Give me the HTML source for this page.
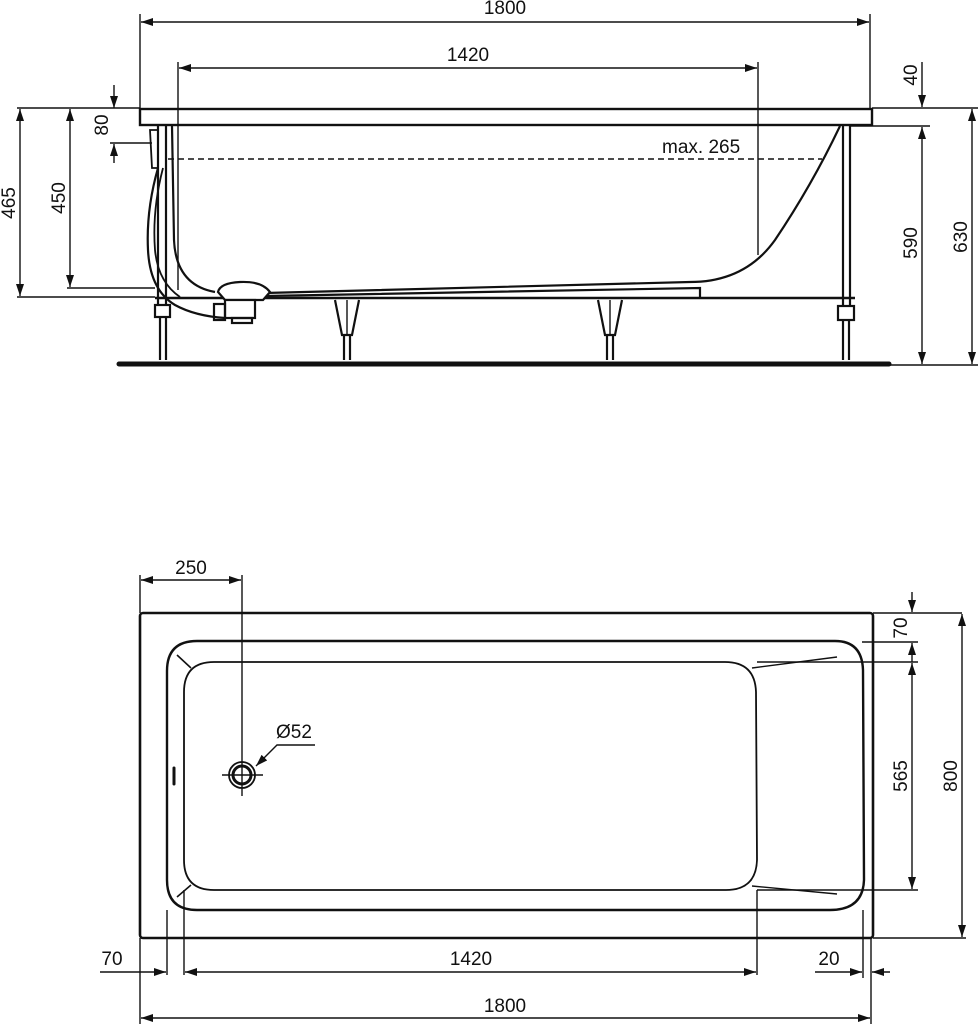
<!DOCTYPE html>
<html><head><meta charset="utf-8"><style>
html,body{margin:0;padding:0;background:#fff;}
svg{display:block}
text{font-family:"Liberation Sans",sans-serif;font-size:19px;fill:#111}
</style></head><body>
<svg width="978" height="1024" viewBox="0 0 978 1024" xmlns="http://www.w3.org/2000/svg">
<defs>
<marker id="a" viewBox="0 0 12 8" refX="12" refY="4" markerWidth="12" markerHeight="8" markerUnits="userSpaceOnUse" orient="auto-start-reverse">
<path d="M0,0 L12,4 L0,8 Z" fill="#111"/></marker>
</defs>
<g stroke="#111" fill="none" stroke-width="1.4">
<line x1="140" y1="14" x2="140" y2="108"/>
<line x1="870" y1="14" x2="870" y2="108"/>
<line x1="141" y1="22" x2="869" y2="22" marker-start="url(#a)" marker-end="url(#a)"/>
<line x1="178" y1="62" x2="178" y2="290"/>
<line x1="758" y1="62" x2="758" y2="255"/>
<line x1="179" y1="68" x2="757" y2="68" marker-start="url(#a)" marker-end="url(#a)"/>
<rect x="140" y="109" width="732" height="16" stroke-width="2.4"/>
<line x1="168" y1="159" x2="822" y2="159" stroke-dasharray="6,4"/>
<path d="M172,126 L174,240 Q176,285 215,292" stroke-width="2.2"/>
<path d="M265,293 L690,282 Q745,282 775,240 Q812,185 840,126" stroke-width="2.2"/>
<path d="M265,296 L700,288 L700,297" stroke-width="2.2"/>
<line x1="155" y1="298" x2="855" y2="298" stroke-width="2.6"/>
<line x1="158" y1="126" x2="158" y2="305" stroke-width="2.2"/>
<line x1="166" y1="126" x2="166" y2="305" stroke-width="2.2"/>
<path d="M150,130 L158,130 L158,168 L152,168 Z" stroke-width="1.8"/>
<rect x="155" y="305" width="15" height="12" stroke-width="2.2"/>
<line x1="160" y1="317" x2="160" y2="360" stroke-width="2.2"/>
<line x1="166" y1="317" x2="166" y2="360" stroke-width="2.2"/>
<path d="M158,168 Q146,210 148,250 Q150,290 175,305 Q195,316 225,318" stroke-width="2.2"/>
<path d="M163,168 Q152,210 155,250 Q158,282 180,297" stroke-width="1.8"/>
<path d="M218,292 Q220,283 240,282 Q262,281 270,292 L263,300 L225,300 Z" stroke-width="2.2" fill="#fff"/>
<rect x="225" y="300" width="30" height="18" stroke-width="2.2" fill="#fff"/>
<rect x="214" y="304" width="11" height="16" stroke-width="2.2"/>
<rect x="232" y="318" width="20" height="5" stroke-width="2.2"/>
<line x1="843" y1="126" x2="843" y2="306" stroke-width="2.2"/>
<line x1="850" y1="126" x2="850" y2="306" stroke-width="2.2"/>
<rect x="838" y="306" width="16" height="14" stroke-width="2.2"/>
<line x1="843" y1="320" x2="843" y2="360" stroke-width="2.2"/>
<line x1="849" y1="320" x2="849" y2="360" stroke-width="2.2"/>
<path d="M335,300 L342,335 L352,335 L359,300" stroke-width="2.2"/>
<line x1="347" y1="300" x2="347" y2="335"/>
<line x1="344" y1="335" x2="344" y2="360" stroke-width="2.2"/>
<line x1="350" y1="335" x2="350" y2="360" stroke-width="2.2"/>
<path d="M598,300 L605,335 L615,335 L622,300" stroke-width="2.2"/>
<line x1="610" y1="300" x2="610" y2="335"/>
<line x1="607" y1="335" x2="607" y2="360" stroke-width="2.2"/>
<line x1="613" y1="335" x2="613" y2="360" stroke-width="2.2"/>
<line x1="119" y1="364" x2="889" y2="364" stroke-width="5" stroke-linecap="round"/>
<line x1="17" y1="108" x2="140" y2="108"/>
<line x1="17" y1="297" x2="155" y2="297"/>
<line x1="67" y1="288" x2="155" y2="288"/>
<line x1="20" y1="109" x2="20" y2="296" marker-start="url(#a)" marker-end="url(#a)"/>
<line x1="70" y1="109" x2="70" y2="287" marker-start="url(#a)" marker-end="url(#a)"/>
<line x1="110" y1="143" x2="152" y2="143"/>
<line x1="114" y1="85" x2="114" y2="108" marker-end="url(#a)"/>
<line x1="114" y1="163" x2="114" y2="144" marker-end="url(#a)"/>
<line x1="872" y1="108" x2="980" y2="108"/>
<line x1="850" y1="126" x2="930" y2="126"/>
<line x1="890" y1="365" x2="978" y2="365"/>
<line x1="922" y1="62" x2="922" y2="107" marker-end="url(#a)"/>
<line x1="922" y1="127" x2="922" y2="364" marker-start="url(#a)" marker-end="url(#a)"/>
<line x1="972" y1="109" x2="972" y2="364" marker-start="url(#a)" marker-end="url(#a)"/>

<rect x="140" y="613" width="733" height="325" rx="3" stroke-width="2.6"/>
<path d="M197,641 L835,641 Q862,641 863,670 L864,880 Q863,910 830,910 L197,910 Q167,910 167,880 L167,671 Q167,641 197,641 Z" stroke-width="2.4"/>
<path d="M214,662 L725,662 Q755,662 756,692 L757,860 Q756,890 726,890 L214,890 Q184,890 184,860 L184,692 Q184,662 214,662 Z" stroke-width="1.8"/>
<line x1="752" y1="668" x2="837" y2="657"/>
<line x1="752" y1="886" x2="837" y2="894"/>
<line x1="177" y1="655" x2="191" y2="668" stroke-width="1.6"/>
<line x1="177" y1="897" x2="191" y2="885" stroke-width="1.6"/>
<line x1="174" y1="768" x2="174" y2="784" stroke-width="3" stroke-linecap="round"/>
<circle cx="242" cy="775" r="13" stroke-width="1.8"/>
<circle cx="242" cy="775" r="9" stroke-width="3"/>
<line x1="222" y1="775" x2="263" y2="775"/>
<line x1="242" y1="575" x2="242" y2="796"/>
<path d="M315,745 L277,745 L256,766" marker-end="url(#a)"/>
<line x1="140" y1="575" x2="140" y2="613"/>
<line x1="141" y1="580" x2="241" y2="580" marker-start="url(#a)" marker-end="url(#a)"/>
<line x1="873" y1="613" x2="962" y2="613"/>
<line x1="862" y1="642" x2="918" y2="642"/>
<line x1="757" y1="662" x2="918" y2="662"/>
<line x1="757" y1="890" x2="918" y2="890"/>
<line x1="873" y1="938" x2="966" y2="938"/>
<line x1="912" y1="592" x2="912" y2="612" marker-end="url(#a)"/>
<line x1="912" y1="662" x2="912" y2="643" marker-end="url(#a)"/>
<line x1="912" y1="663" x2="912" y2="889" marker-start="url(#a)" marker-end="url(#a)"/>
<line x1="962" y1="614" x2="962" y2="937" marker-start="url(#a)" marker-end="url(#a)"/>
<line x1="140" y1="938" x2="140" y2="1024"/>
<line x1="167" y1="910" x2="167" y2="975"/>
<line x1="184" y1="890" x2="184" y2="975"/>
<line x1="757" y1="890" x2="757" y2="975"/>
<line x1="863" y1="910" x2="863" y2="978"/>
<line x1="871" y1="938" x2="871" y2="1024"/>
<line x1="100" y1="972" x2="166" y2="972" marker-end="url(#a)"/>
<line x1="185" y1="972" x2="756" y2="972" marker-start="url(#a)" marker-end="url(#a)"/>
<line x1="815" y1="972" x2="862" y2="972" marker-end="url(#a)"/>
<line x1="890" y1="972" x2="872" y2="972" marker-end="url(#a)"/>
<line x1="141" y1="1018" x2="870" y2="1018" marker-start="url(#a)" marker-end="url(#a)"/>
</g>
<text x="505" y="14" text-anchor="middle">1800</text>
<text x="468" y="61" text-anchor="middle">1420</text>
<text x="662" y="153">max. 265</text>
<text transform="translate(108,125) rotate(-90)" text-anchor="middle">80</text>
<text transform="translate(15,203) rotate(-90)" text-anchor="middle">465</text>
<text transform="translate(65,198) rotate(-90)" text-anchor="middle">450</text>
<text transform="translate(917,75) rotate(-90)" text-anchor="middle">40</text>
<text transform="translate(917,243) rotate(-90)" text-anchor="middle">590</text>
<text transform="translate(967,237) rotate(-90)" text-anchor="middle">630</text>
<text x="191" y="574" text-anchor="middle">250</text>
<text x="276" y="738">Ø52</text>
<text transform="translate(907,628) rotate(-90)" text-anchor="middle">70</text>
<text transform="translate(907,776) rotate(-90)" text-anchor="middle">565</text>
<text transform="translate(957,776) rotate(-90)" text-anchor="middle">800</text>
<text x="112" y="965" text-anchor="middle">70</text>
<text x="471" y="965" text-anchor="middle">1420</text>
<text x="829" y="965" text-anchor="middle">20</text>
<text x="505" y="1012" text-anchor="middle">1800</text>
</svg>
</body></html>
